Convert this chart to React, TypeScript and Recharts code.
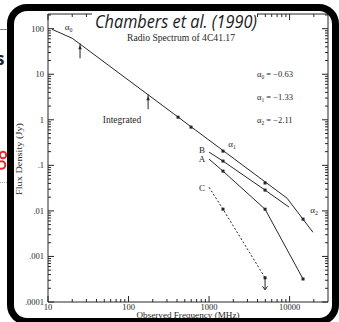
import React from 'react';
import { ComposedChart, Line, Scatter, XAxis, YAxis, ReferenceDot } from 'recharts';

// integrated spectrum, drawn as broken power law
const integratedFreq = [11.2, 20, 9300, 19500];
const integratedFlux = [97, 61.5, 0.019, 0.0034];

// integrated measurements
const integratedPtFreq = [25, 175, 412, 597, 1490, 4960, 14700];
const integratedPtFlux = [37, 2.83, 1.14, 0.69, 0.205, 0.041, 0.0066];
const integratedPtKind = ['bar', 'bar', 'dot', 'dot', 'dot', 'dot', 'dot'];

// components (first / last entries are line ends only)
const compBFreq = [1000, 1490, 4960, 9860];
const compBFlux = [0.195, 0.124, 0.0286, 0.0121];
const compBKind = ['', 'dot', 'dot', ''];

const compAFreq = [1000, 1490, 4960, 14700];
const compAFlux = [0.137, 0.0747, 0.0109, 0.00032];
const compAKind = ['', 'dot', 'dot', 'dot'];

const compCFreq = [1000, 1490, 4960];
const compCFlux = [0.033, 0.0109, 0.00034];
const compCKind = ['', 'dot', 'limit'];

const xTickLabels = ['10', '100', '1000', '10000'];
const yTickLabels = ['.0001', '.001', '.01', '.1', '1', '10', '100'];

const alphaNames = ['0', '1', '2'];
const alphaValues = ['\u22120.63', '\u22121.33', '\u22122.11'];

const INK = '#262626';
const SERIF = "'Liberation Serif', 'DejaVu Serif', serif";

const zip = (f: number[], s: number[], k?: string[]) =>
  f.map((freq, i) => ({ freq, flux: s[i], kind: k ? k[i] : '' }));

const pts = (f: number[], s: number[], k: string[]) => zip(f, s, k).filter((d) => d.kind !== '');

const logTicks = (lo: number, hi: number) => {
  const out: number[] = [];
  for (let e = lo; e < hi; e++) for (let m = 1; m < 10; m++) out.push(m * Math.pow(10, e));
  out.push(Math.pow(10, hi));
  return out;
};
const xTicks = [...logTicks(1, 4), 20000];
const yTicks = [...logTicks(-4, 2), 200];

const decade = (v: number) => Math.round(Math.log10(v));
const isMajor = (v: number) => Math.abs(Math.log10(v) - decade(v)) < 1e-6;

const BottomTick = ({ x, y, payload }: any) => {
  const v = payload.value;
  const major = isMajor(v);
  return (
    <g>
      <line x1={x} x2={x} y1={y} y2={y - (major ? 6 : 3)} stroke={INK} />
      {major && (
        <text x={x} y={y + 8} textAnchor="middle" fontSize={8.5} fontFamily={SERIF} fill={INK}>
          {xTickLabels[decade(v) - 1]}
        </text>
      )}
    </g>
  );
};

const TopTick = ({ x, y, payload }: any) => {
  const major = isMajor(payload.value);
  return <line x1={x} x2={x} y1={y} y2={y + (major ? 6 : 3)} stroke={INK} />;
};

const LeftTick = ({ x, y, payload }: any) => {
  const v = payload.value;
  const major = isMajor(v);
  return (
    <g>
      <line x1={x} x2={x + (major ? 6 : 3)} y1={y} y2={y} stroke={INK} />
      {major && (
        <text x={x - 4} y={y + 3} textAnchor="end" fontSize={8.5} fontFamily={SERIF} fill={INK}>
          {yTickLabels[decade(v) + 4]}
        </text>
      )}
    </g>
  );
};

const RightTick = ({ x, y, payload }: any) => {
  const major = isMajor(payload.value);
  return <line x1={x} x2={x - (major ? 6 : 3)} y1={y} y2={y} stroke={INK} />;
};

const Mark = (p: any) => {
  const { cx, cy, payload } = p;
  if (cx == null || cy == null) return <g />;
  if (payload.kind === 'bar') {
    return (
      <g>
        <line x1={cx} x2={cx} y1={cy - 5} y2={cy + 10} stroke={INK} />
        <path d={`M${cx - 1.8},${cy + 1} L${cx},${cy - 3} L${cx + 1.8},${cy + 1} Z`} fill={INK} />
      </g>
    );
  }
  if (payload.kind === 'limit') {
    return (
      <g>
        <rect x={cx - 1.5} y={cy - 1.5} width={3} height={3} fill={INK} />
        <line x1={cx} x2={cx} y1={cy} y2={cy + 12} stroke={INK} />
        <path d={`M${cx - 2.5},${cy + 8.5} L${cx},${cy + 12} L${cx + 2.5},${cy + 8.5}`} fill="none" stroke={INK} />
      </g>
    );
  }
  return <rect x={cx - 1.5} y={cy - 1.5} width={3} height={3} fill={INK} />;
};

const textShape = (label: string, sub?: string, size = 9) => (p: any) => (
  <text x={p.cx} y={p.cy + 3} textAnchor="middle" fontSize={size} fontFamily={SERIF} fill={INK}>
    {label}
    {sub && (
      <tspan fontSize={size * 0.65} dy={2}>
        {sub}
      </tspan>
    )}
  </text>
);

const App: React.FC = () => {
  const lineProps = {
    type: 'linear' as const,
    dataKey: 'flux',
    stroke: INK,
    strokeWidth: 1,
    dot: false,
    activeDot: false,
    isAnimationActive: false,
  };
  return (
    <div style={{ position: 'fixed', left: 0, top: 0, width: 339, height: 322, background: '#fff', overflow: 'hidden' }}>
      {/* slide content peeking out at the left */}
      <svg width={20} height={322} style={{ position: 'absolute', left: 0, top: 0 }}>
        <line x1={0} x2={9} y1={29.5} y2={29.5} stroke="#888" />
        <line x1={7.5} x2={7.5} y1={29} y2={36} stroke="#888" />
        <text x={-4} y={65} fontSize={17} fontWeight="bold" fontFamily="'Open Sans', sans-serif" fill="#1c2233">s</text>
        <circle cx={3} cy={155} r={3.2} fill="none" stroke="#e03030" strokeWidth={2} />
        <circle cx={1.5} cy={165} r={3.8} fill="none" stroke="#e03030" strokeWidth={2} />
        <line x1={0} x2={8} y1={182.5} y2={182.5} stroke="#aaa" strokeDasharray="1 1" />
      </svg>

      <div style={{ position: 'absolute', left: 0, top: 0 }}>
        <ComposedChart width={339} height={322} margin={{ top: 0, right: 0, bottom: 0, left: 0 }}>
          <XAxis
            xAxisId="b"
            type="number"
            dataKey="freq"
            scale="log"
            domain={[10, 30000]}
            allowDataOverflow
            ticks={xTicks}
            interval={0}
            height={20}
            tickSize={0}
            tickMargin={0}
            tick={BottomTick}
            axisLine={{ stroke: INK }}
            tickLine={false}
          />
          <XAxis
            xAxisId="t"
            orientation="top"
            type="number"
            dataKey="freq"
            scale="log"
            domain={[10, 30000]}
            allowDataOverflow
            ticks={xTicks}
            interval={0}
            height={14}
            tickSize={0}
            tickMargin={0}
            tick={TopTick}
            axisLine={{ stroke: INK }}
            tickLine={false}
          />
          <YAxis
            yAxisId="l"
            type="number"
            dataKey="flux"
            scale="log"
            domain={[0.0001, 210]}
            allowDataOverflow
            ticks={yTicks}
            interval={0}
            width={48}
            tickSize={0}
            tickMargin={0}
            tick={LeftTick}
            axisLine={{ stroke: INK }}
            tickLine={false}
          />
          <YAxis
            yAxisId="r"
            orientation="right"
            type="number"
            dataKey="flux"
            scale="log"
            domain={[0.0001, 210]}
            allowDataOverflow
            ticks={yTicks}
            interval={0}
            width={11}
            tickSize={0}
            tickMargin={0}
            tick={RightTick}
            axisLine={{ stroke: INK }}
            tickLine={false}
          />

          <Line xAxisId="b" yAxisId="l" {...lineProps} data={zip(integratedFreq, integratedFlux)} />
          <Line xAxisId="b" yAxisId="l" {...lineProps} data={zip(compBFreq, compBFlux)} />
          <Line xAxisId="b" yAxisId="l" {...lineProps} data={zip(compAFreq, compAFlux)} />
          <Line xAxisId="b" yAxisId="l" {...lineProps} strokeDasharray="2 2" data={zip(compCFreq, compCFlux)} />

          <Scatter xAxisId="b" yAxisId="l" isAnimationActive={false} shape={Mark}
            data={pts(integratedPtFreq, integratedPtFlux, integratedPtKind)} />
          <Scatter xAxisId="b" yAxisId="l" isAnimationActive={false} shape={Mark} data={pts(compBFreq, compBFlux, compBKind)} />
          <Scatter xAxisId="b" yAxisId="l" isAnimationActive={false} shape={Mark} data={pts(compAFreq, compAFlux, compAKind)} />
          <Scatter xAxisId="b" yAxisId="l" isAnimationActive={false} shape={Mark} data={pts(compCFreq, compCFlux, compCKind)} />

          <ReferenceDot xAxisId="b" yAxisId="l" x={18} y={108} r={0} shape={textShape('\u03b1', alphaNames[0], 9)} />
          <ReferenceDot xAxisId="b" yAxisId="l" x={1930} y={0.29} r={0} shape={textShape('\u03b1', alphaNames[1], 9)} />
          <ReferenceDot xAxisId="b" yAxisId="l" x={20100} y={0.0104} r={0} shape={textShape('\u03b1', alphaNames[2], 9)} />
          <ReferenceDot xAxisId="b" yAxisId="l" x={818} y={0.215} r={0} shape={textShape('B')} />
          <ReferenceDot xAxisId="b" yAxisId="l" x={818} y={0.137} r={0} shape={textShape('A')} />
          <ReferenceDot xAxisId="b" yAxisId="l" x={818} y={0.0316} r={0} shape={textShape('C')} />
          <ReferenceDot xAxisId="b" yAxisId="l" x={83} y={0.98} r={0} shape={textShape('Integrated', undefined, 9.5)} />
        </ComposedChart>
      </div>

      <svg width={339} height={322} style={{ position: 'absolute', left: 0, top: 0 }}>
        <text x={181} y={41} textAnchor="middle" fontSize={9.5} fontFamily={SERIF} fill={INK} textLength={108} lengthAdjust="spacingAndGlyphs">
          Radio Spectrum of 4C41.17
        </text>
        {alphaNames.map((n, i) => (
          <text key={n} x={257} y={77 + i * 23} fontSize={8.5} fontFamily={SERIF} fill={INK}>
            {'\u03b1'}
            <tspan fontSize={5.5} dy={2}>{n}</tspan>
            <tspan dy={-2}>{' = ' + alphaValues[i]}</tspan>
          </text>
        ))}
        <text transform="translate(22,159) rotate(-90)" textAnchor="middle" fontSize={9} fontFamily={SERIF} fill={INK} textLength={72} lengthAdjust="spacingAndGlyphs">
          Flux Density (Jy)
        </text>
        <text x={188} y={317.5} textAnchor="middle" fontSize={9} fontFamily={SERIF} fill={INK} textLength={103} lengthAdjust="spacingAndGlyphs">
          Observed Frequency (MHz)
        </text>
        <rect x={92} y={9} width={165} height={22} fill="#fff" />
        <text x={95} y={28} fontSize={19} fontStyle="italic" fontFamily="'Open Sans', sans-serif" fill="#1a1a1a" textLength={162} lengthAdjust="spacingAndGlyphs">
          Chambers et al. (1990)
        </text>
      </svg>

      {/* thick rounded slide frame */}
      <div
        style={{
          position: 'absolute',
          left: 7,
          top: 4,
          width: 332,
          height: 321,
          boxSizing: 'border-box',
          border: '7px solid #000',
          borderRadius: 20,
          pointerEvents: 'none',
        }}
      />
    </div>
  );
};

export default App;
